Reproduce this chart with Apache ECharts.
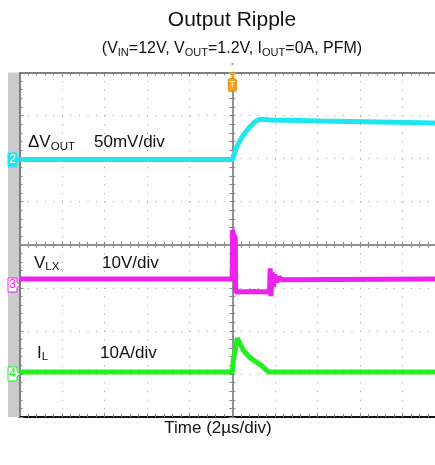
<!DOCTYPE html>
<html><head><meta charset="utf-8">
<script src="https://cdn.jsdelivr.net/npm/echarts@6/dist/echarts.min.js"></script>
<style>html,body{margin:0;padding:0;background:#fff}#c{width:435px;height:465px}</style>
</head><body><div id="c"></div>
<script>
// ---- data (time in µs, trigger at 0; 2 µs/div) ----
const voutTime = [-10, 0, 0.207, 0.517, 0.832, 1.067, 1.30, 1.77, 3.18, 4.12, 6.94, 9.53, 10];
const voutMv   = [0.5, 0.5, 15.4, 29.0, 38.7, 44.5, 47.3, 46.4, 45.9, 45.3, 44.1, 43.0, 42.8];
const vlxTime  = [-10, 0, 0.005, 0.05, 0.10, 0.14, 0.16, 1.0, 1.75, 1.78, 1.82, 1.87, 1.93, 2.0, 2.1, 2.2, 2.35, 10];
const vlxV     = [1.4, 1.4, 12.8, 11.8, 12.2, 11.0, -1.6, -1.5, -1.6, 3.9, -2.6, 3.0, -0.4, 2.4, 0.7, 1.8, 1.2, 1.4];
const ilTime   = [-10, 0, 0.04, 0.235, 0.52, 0.83, 1.3, 1.7, 10];
const ilA      = [0.46, 0.46, 3.0, 8.3, 5.5, 3.8, 2.2, 0.46, 0.46];

const FONT = '"Liberation Sans", Arial, sans-serif';
const CYAN = '#1ee6f0', MAG = '#ee22ee', GRN = '#22ee22';
const zip = (a, b) => a.map((v, i) => [v, b[i]]);

const chart = echarts.init(document.getElementById('c'), null, {renderer: 'canvas'});
const tickStyle = {color: '#888', width: 1};
const baseX = {type: 'value', min: -10, max: 10, interval: 2, axisLabel: {show: false}, splitLine: {show: false}};
const baseY = {type: 'value', min: -4, max: 4, interval: 1, axisLabel: {show: false}, splitLine: {show: false}};

chart.setOption({
  animation: false,
  grid: {left: 19.5, top: 72.5, width: 425.6, height: 344.5, containLabel: false, outerBoundsMode: 'none'},
  xAxis: [
    Object.assign({}, baseX, {position: 'bottom',
      axisLine: {onZero: false, lineStyle: {color: '#111', width: 2}},
      axisTick: {show: true, inside: true, length: 4, lineStyle: tickStyle},
      minorTick: {show: true, splitNumber: 5, length: 3, lineStyle: tickStyle},
      splitLine: {show: true, lineStyle: {color: '#999', width: 1, type: [1, 7.61]}}}),
    Object.assign({}, baseX, {position: 'top',
      axisLine: {onZero: false, lineStyle: {color: '#555', width: 1.5}},
      axisTick: {show: true, inside: true, length: 4, lineStyle: tickStyle},
      minorTick: {show: true, splitNumber: 5, length: 3, lineStyle: tickStyle}}),
    Object.assign({}, baseX, {position: 'bottom',
      axisLine: {onZero: true, onZeroAxisIndex: 0, lineStyle: {color: '#8a8a8a', width: 1.5}},
      axisTick: {show: true, inside: false, length: 3, lineStyle: tickStyle},
      minorTick: {show: true, splitNumber: 5, length: 3, lineStyle: tickStyle}}),
    Object.assign({}, baseX, {position: 'bottom',
      axisLine: {onZero: true, onZeroAxisIndex: 0, lineStyle: {color: '#8a8a8a', width: 1.5}},
      axisTick: {show: true, inside: true, length: 3, lineStyle: tickStyle},
      minorTick: {show: true, splitNumber: 5, length: 3, lineStyle: tickStyle}})
  ],
  yAxis: [
    Object.assign({}, baseY, {position: 'left',
      axisLine: {onZero: false, lineStyle: {color: '#555', width: 1.5}},
      axisTick: {show: true, inside: true, length: 4, lineStyle: tickStyle},
      minorTick: {show: true, splitNumber: 5, length: 3, lineStyle: tickStyle},
      splitLine: {show: true, lineStyle: {color: '#999', width: 1, type: [1, 7.51]}}}),
    {type: 'value', show: false, min: -298.4, max: 101.6, position: 'left', axisLine: {onZero: false}},
    {type: 'value', show: false, min: -30.65, max: 49.35, position: 'left', axisLine: {onZero: false}},
    {type: 'value', show: false, min: -10, max: 70, position: 'left', axisLine: {onZero: false}},
    Object.assign({}, baseY, {position: 'left',
      axisLine: {onZero: true, onZeroAxisIndex: 0, lineStyle: {color: '#8a8a8a', width: 1.5}},
      axisTick: {show: true, inside: false, length: 3, lineStyle: tickStyle},
      minorTick: {show: true, splitNumber: 5, length: 3, lineStyle: tickStyle}}),
    Object.assign({}, baseY, {position: 'left',
      axisLine: {onZero: true, onZeroAxisIndex: 0, lineStyle: {color: '#8a8a8a', width: 1.5}},
      axisTick: {show: true, inside: true, length: 3, lineStyle: tickStyle},
      minorTick: {show: true, splitNumber: 5, length: 3, lineStyle: tickStyle}})
  ],
  series: [
    {type: 'line', xAxisIndex: 0, yAxisIndex: 1, data: zip(voutTime, voutMv), showSymbol: false, z: 5,
      lineStyle: {color: CYAN, width: 5}},
    {type: 'line', xAxisIndex: 0, yAxisIndex: 2, data: zip(vlxTime, vlxV), showSymbol: false, z: 5,
      lineStyle: {color: MAG, width: 5}},
    {type: 'line', xAxisIndex: 0, yAxisIndex: 3, data: zip(ilTime, ilA), showSymbol: false, z: 5,
      lineStyle: {color: GRN, width: 5}}
  ]
});

const px0 = chart.convertToPixel({xAxisIndex: 0}, 0);
const gridTop = chart.convertToPixel({yAxisIndex: 0}, 4);
const gridBot = chart.convertToPixel({yAxisIndex: 0}, -4);
const y2 = chart.convertToPixel({yAxisIndex: 1}, 0);
const y3 = chart.convertToPixel({yAxisIndex: 2}, 0);
const y4 = chart.convertToPixel({yAxisIndex: 3}, 0);

function marker(label, y, color, filled) {
  const pts = [[8, y - 7], [17, y - 7], [17, y - 2.5], [20, y], [17, y + 2.5], [17, y + 7], [8, y + 7]];
  return [
    {type: 'polygon', shape: {points: pts}, z: 20,
      style: {fill: filled ? color : '#fff', stroke: color, lineWidth: 1}},
    {type: 'text', x: 12.5, y: y, z: 21,
      style: {text: label, font: '12px ' + FONT, fill: filled ? '#fff' : color, align: 'center', verticalAlign: 'middle'}}
  ];
}
function label(x, y, text, rich) {
  return {type: 'text', x: x, y: y, z: 10, style: {text: text, font: '17px ' + FONT, fill: '#111',
    lineHeight: 20, align: 'left', verticalAlign: 'middle', rich: rich}};
}
const subRich = {s: {fontSize: 11.5, fontFamily: FONT, fill: '#111', lineHeight: 14, verticalAlign: 'bottom'}};

chart.setOption({
  graphic: [
    {type: 'rect', shape: {x: 8, y: gridTop, width: 11, height: gridBot - gridTop}, z: 1, style: {fill: '#cbcbcb'}},
    {type: 'text', x: 232, y: 20, style: {text: 'Output Ripple', font: '21px ' + FONT, fill: '#111', align: 'center', verticalAlign: 'middle'}},
    {type: 'text', x: 232, y: 48.5, style: {text: '(V{s|IN}=12V, V{s|OUT}=1.2V, I{s|OUT}=0A, PFM)', font: '16px ' + FONT,
      fill: '#111', lineHeight: 20, align: 'center', verticalAlign: 'middle',
      rich: {s: {fontSize: 11, fontFamily: FONT, fill: '#111', lineHeight: 13, verticalAlign: 'bottom'}}}},
    {type: 'text', x: 218, y: 428, style: {text: 'Time (2µs/div)', font: '17px ' + FONT, fill: '#111', align: 'center', verticalAlign: 'middle'}},
    label(28, 142.5, 'ΔV{s|OUT}', subRich),
    label(94, 142.5, '50mV/div'),
    label(34, 263, 'V{s|LX}', subRich),
    label(102, 263, '10V/div'),
    label(37, 353, 'I{s|L}', subRich),
    label(100, 353, '10A/div'),
    ...marker('2', y2, CYAN, true),
    ...marker('3', y3, MAG, false),
    ...marker('4', y4, GRN, false),
    {type: 'circle', shape: {cx: px0, cy: 64, r: 0.9}, style: {fill: '#777'}},
    {type: 'polygon', shape: {points: [[px0 - 4, gridTop], [px0 + 4, gridTop], [px0, gridTop + 5]]}, z: 20, style: {fill: '#f3a41d'}},
    {type: 'rect', shape: {x: px0 - 4, y: gridTop + 6, width: 8, height: 13, r: 2}, z: 20, style: {fill: '#f3a41d', stroke: '#e08a00', lineWidth: 1}},
    {type: 'text', x: px0, y: gridTop + 12.5, z: 21, style: {text: 'T', font: 'bold 9px ' + FONT, fill: '#ffe9c0', align: 'center', verticalAlign: 'middle'}}
  ]
});
</script></body></html>
